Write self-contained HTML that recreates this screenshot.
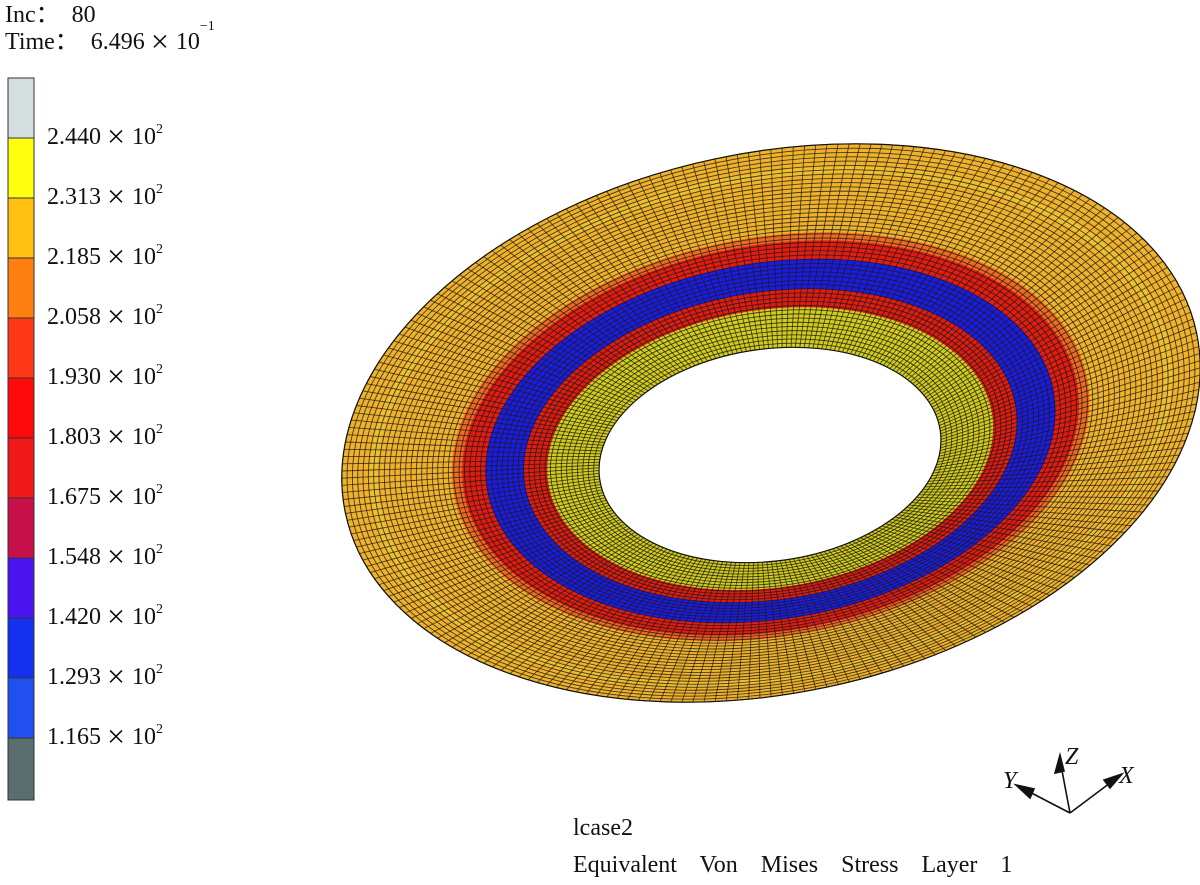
<!DOCTYPE html>
<html><head><meta charset="utf-8"><style>
body{margin:0;background:#fff;width:1200px;height:885px;overflow:hidden;font-family:"Liberation Serif",serif;}
.t{position:absolute;font-size:24px;color:#111;white-space:nowrap;}
.x{font-size:32px;line-height:0;position:relative;top:3px;margin:0 7px 0 6px}
sup{font-size:14px;vertical-align:top;position:relative;top:-2px}
</style></head><body>
<div class="t" style="left:5px;top:-6px">Inc：&nbsp;&nbsp;80</div>
<div class="t" style="left:5px;top:21px">Time：&nbsp;&nbsp;6.496<span class="x">×</span>10<sup>−1</sup></div>
<svg width="1200" height="885" style="position:absolute;left:0;top:0" id="s">
<g id="legend" stroke="#333" stroke-width="1">
<rect x="8" y="78" width="26" height="60" fill="#d4dfe0"/>
<rect x="8" y="138" width="26" height="60" fill="#ffff10"/>
<rect x="8" y="198" width="26" height="60" fill="#ffc010"/>
<rect x="8" y="258" width="26" height="60" fill="#ff8010"/>
<rect x="8" y="318" width="26" height="60" fill="#ff3818"/>
<rect x="8" y="378" width="26" height="60" fill="#ff0a0a"/>
<rect x="8" y="438" width="26" height="60" fill="#f01818"/>
<rect x="8" y="498" width="26" height="60" fill="#c8104a"/>
<rect x="8" y="558" width="26" height="60" fill="#4a14f0"/>
<rect x="8" y="618" width="26" height="60" fill="#1430f0"/>
<rect x="8" y="678" width="26" height="60" fill="#2050f0"/>
<rect x="8" y="738" width="26" height="62" fill="#5a6e70"/>
</g>
<g id="ring"></g>
<g stroke="#111" stroke-width="1.6" fill="#111">
<line x1="1070" y1="813" x2="1060" y2="760"/><polygon points="1060,755 1055,773 1064,771"/>
<line x1="1070" y1="813" x2="1020" y2="787"/><polygon points="1016,785 1030,798 1034,789"/>
<line x1="1070" y1="813" x2="1118" y2="777"/><polygon points="1122,774 1104,780 1110,788"/>
</g>
<g font-family="Liberation Serif,serif" font-style="italic" font-size="24" fill="#111">
<text x="1065" y="764">Z</text><text x="1003" y="788">Y</text><text x="1119" y="783">X</text>
</g>
</svg>
<div class="t" id="labels"></div>
<div class="t" style="left:573px;top:815px">lcase2</div>
<div class="t" style="left:573px;top:852px;word-spacing:17px">Equivalent Von Mises Stress Layer 1</div>
<script>
var L=["2.440","2.313","2.185","2.058","1.930","1.803","1.675","1.548","1.420","1.293","1.165"];
var h="";L.forEach(function(v,i){h+='<div class="t" style="left:47px;top:'+(124+i*60)+'px">'+v+'<span class="x">×</span>10<sup>2</sup></div>';});
document.getElementById("labels").outerHTML=h;
var g=document.getElementById("ring"),NS="http://www.w3.org/2000/svg";
function E(t){return{cx:770-t*(-1),cy:455-32*t,rx:172+263*t,ry:106+164*t,rot:-8-4*t};}
function el(t,fill,stroke,sw,op){var e=E(t),o=document.createElementNS(NS,"ellipse");
o.setAttribute("cx",e.cx);o.setAttribute("cy",e.cy);o.setAttribute("rx",e.rx);o.setAttribute("ry",e.ry);
o.setAttribute("transform","rotate("+e.rot+" "+e.cx+" "+e.cy+")");o.setAttribute("fill",fill);
o.setAttribute("stroke",stroke);o.setAttribute("stroke-width",sw);if(op)o.setAttribute("stroke-opacity",op);g.appendChild(o);}
var bands=[[1,"#efb22a"],[0.89,"#eec030"],[0.86,"#efb22a"],[0.57,"#ee6a20"],[0.53,"#e41c10"],[0.44,"#1c1ce0"],[0.29,"#e01c10"],[0.2,"#d2cc1c"]];
bands.forEach(function(b){el(b[0],b[1],"none",0);});
for(var i=1;i<=48;i++){el(i/48,"none","#1a1a1a",0.9,0.8);}
function P(t,a){var e=E(t),x=e.rx*Math.cos(a),y=e.ry*Math.sin(a),r=e.rot*Math.PI/180;
return[e.cx+x*Math.cos(r)-y*Math.sin(r),e.cy+x*Math.sin(r)+y*Math.cos(r)];}
var d="";for(var k=0;k<240;k++){var a=k/240*2*Math.PI,p=P(0,a),q=P(1,a);d+="M"+p[0].toFixed(1)+" "+p[1].toFixed(1)+"L"+q[0].toFixed(1)+" "+q[1].toFixed(1);}
var pa=document.createElementNS(NS,"path");pa.setAttribute("d",d);pa.setAttribute("stroke","#1a1a1a");pa.setAttribute("stroke-width","0.9");pa.setAttribute("stroke-opacity","0.75");g.appendChild(pa);
el(0,"#fff","#111",1.2);el(1,"none","#111",1.2);
</script>
</body></html>
